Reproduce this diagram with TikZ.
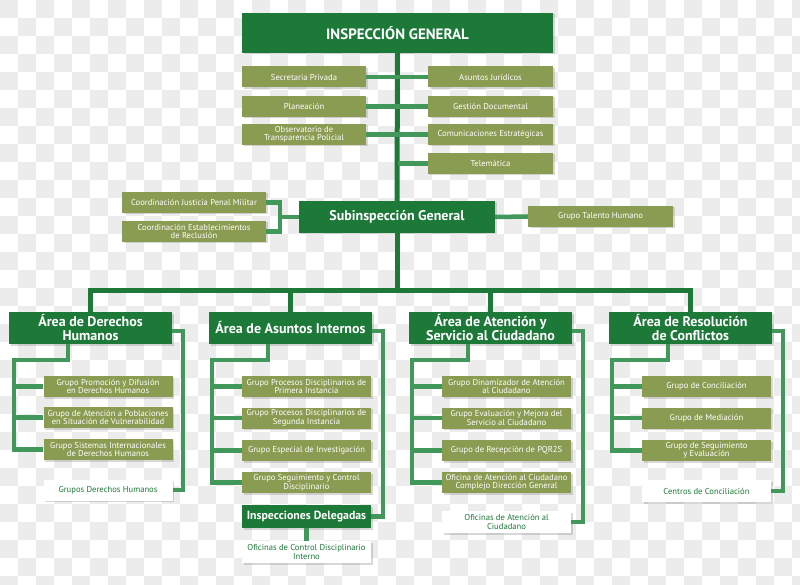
\documentclass[tikz,border=0pt]{standalone}
\usepackage{fontspec}
\setmainfont{PT Sans}
\usetikzlibrary{shadows}

\definecolor{dkgreen}{RGB}{28,121,56}
\definecolor{midgreen}{RGB}{66,152,90}
\definecolor{olivebox}{RGB}{138,155,82}
\definecolor{checker}{RGB}{236,236,236}

\begin{document}
\begin{tikzpicture}[x=1pt, y=-1pt,
    % Box styles
    box shadow/.style={drop shadow={shadow xshift=1.5pt, shadow yshift=-1.5pt, opacity=0.3}},
    head box/.style={fill=dkgreen, text=white, font=\bfseries\fontsize{14}{14}\selectfont, align=center, inner sep=2pt, box shadow},
    olive box/.style={fill=olivebox, text=white, font=\fontsize{8.6}{8.6}\selectfont, align=center, inner sep=1pt, minimum height=21pt, box shadow},
    white box/.style={fill=white, text=dkgreen, font=\fontsize{8.6}{8.6}\selectfont, align=center, inner sep=1pt, minimum width=129pt, minimum height=21pt, box shadow},
    group box/.style={olive box, minimum width=129pt},
    % Connector styles
    trunk/.style={draw=dkgreen, line width=5pt},
    side link/.style={draw=midgreen, line width=4.5pt}
  ]
  \useasboundingbox (0,0) rectangle (800,585);

  % --- Background ---
  \fill[white] (0,0) rectangle (800,585);
  \foreach \i in {0,2,...,44} {
    \foreach \j in {0,2,...,32} {
      \fill[checker] (\i*18,\j*18) rectangle +(18,18);
      \fill[checker] (\i*18+18,\j*18+18) rectangle +(18,18);
    }
  }

  % --- Top level ---
  \node[head box, font=\bfseries\fontsize{15}{16}\selectfont, minimum width=311pt, minimum height=40pt] (ig) at (397.5,33) {INSPECCIÓN GENERAL};

  \node[olive box, minimum width=124pt] (sp)  at (304,77)    {Secretaria Privada};
  \node[olive box, minimum width=124pt] (pl)  at (304,106.5) {Planeación};
  \node[olive box, minimum width=124pt] (obs) at (304,134.5) {Observatorio de\\Transparencia Policial};

  \node[olive box, minimum width=125pt] (aj)  at (490.5,77)    {Asuntos Jurídicos};
  \node[olive box, minimum width=125pt] (gd)  at (490.5,106.5) {Gestión Documental};
  \node[olive box, minimum width=125pt] (ce)  at (490.5,134.5) {Comunicaciones Estratégicas};
  \node[olive box, minimum width=125pt] (tel) at (490.5,163.5) {Telemática};

  % --- Subinspeccion ---
  \node[head box, font=\bfseries\fontsize{14}{14}\selectfont, minimum width=196pt, minimum height=32pt] (sub) at (397,217) {Subinspección General};
  \node[olive box, minimum width=144pt] (cjp) at (194,202.5) {Coordinación Justicia Penal Militar};
  \node[olive box, minimum width=144pt] (cer) at (194,231.5) {Coordinación Establecimientos\\de Reclusión};
  \node[olive box, minimum width=145pt] (gth) at (600.5,216.5) {Grupo Talento Humano};

  % --- Areas ---
  \node[head box, minimum width=163pt, minimum height=32pt] (a1) at (90.5,328)  {Área de Derechos\\Humanos};
  \node[head box, minimum width=163pt, minimum height=32pt] (a2) at (290.5,328) {Área de Asuntos Internos};
  \node[head box, minimum width=163pt, minimum height=32pt] (a3) at (490.5,328) {Área de Atención y\\Servicio al Ciudadano};
  \node[head box, minimum width=163pt, minimum height=32pt] (a4) at (690.5,328) {Área de Resolución\\de Conflictos};

  % Derechos Humanos
  \node[group box] (g11) at (108,386.5) {Grupo Promoción y Difusión\\en Derechos Humanos};
  \node[group box] (g12) at (108,417.5) {Grupo de Atención a Poblaciones\\en Situación de Vulnerabilidad};
  \node[group box] (g13) at (108,449.5) {Grupo Sistemas Internacionales\\de Derechos Humanos};
  \node[white box] (w1)  at (108,490)   {Grupos Derechos Humanos};

  % Asuntos Internos
  \node[group box] (g21) at (306.5,386.5) {Grupo Procesos Disciplinarios de\\Primera Instancia};
  \node[group box] (g22) at (306.5,418)   {Grupo Procesos Disciplinarios de\\Segunda Instancia};
  \node[group box] (g23) at (306.5,450.5) {Grupo Especial de Investigación};
  \node[group box] (g24) at (306.5,482.5) {Grupo Seguimiento y Control\\Disciplinario};
  \node[head box, font=\bfseries\fontsize{11.8}{12}\selectfont, minimum width=129pt, minimum height=23pt] (idl) at (306.5,516.5) {Inspecciones Delegadas};
  \node[white box, minimum height=22pt] (ocd) at (306.5,552) {Oficinas de Control Disciplinario\\Interno};

  % Atencion al Ciudadano
  \node[group box] (g31) at (506.5,386.5) {Grupo Dinamizador de Atención\\al Ciudadano};
  \node[group box] (g32) at (506.5,418)   {Grupo Evaluación y Mejora del\\Servicio al Ciudadano};
  \node[group box] (g33) at (506.5,450.5) {Grupo de Recepción de PQR2S};
  \node[group box] (g34) at (506.5,482.5) {Oficina de Atención al Ciudadano\\Complejo Dirección General};
  \node[white box, minimum height=22pt] (w3) at (506.5,522) {Oficinas de Atención al\\Ciudadano};

  % Resolucion de Conflictos
  \node[group box] (g41) at (706.5,386.5) {Grupo de Conciliación};
  \node[group box] (g42) at (706.5,418)   {Grupo de Mediación};
  \node[group box] (g43) at (706.5,450.5) {Grupo de Seguimiento\\y Evaluación};
  \node[white box, minimum height=22pt] (w4) at (706.5,491) {Centros de Conciliación};

  % --- Helper points ---
  \coordinate (bar) at (397,290);
  \coordinate (kb)  at (280,217);
  \coordinate (l1) at (14,360);  \coordinate (r1) at (183,490);
  \coordinate (l2) at (212,360); \coordinate (r2) at (383,516.5);
  \coordinate (l3) at (412,360); \coordinate (r3) at (583,522);
  \coordinate (l4) at (612,360); \coordinate (r4) at (783,491);

  % --- Trunk ---
  \begin{scope}[trunk]
    \draw (ig.south) -- (sub.north);
    \draw (sub.south) -- (bar);
    \draw (a1.north) |- (bar) -| (a4.north);
    \draw (a2.north) -- (a2.north |- bar);
    \draw (a3.north) -- (a3.north |- bar);
  \end{scope}

  % --- Side links ---
  \begin{scope}[side link]
    \draw (sp.east) -- (aj.west);
    \draw (pl.east) -- (gd.west);
    \draw (obs.east) -- (ce.west);
    \draw (tel.west) -- (tel.west -| ig.south);
    \draw (cjp.east) -| (kb) |- (cer.east);
    \draw (kb) -- (sub.west);
    \draw (sub.east) -- (gth.west);

    % left brackets
    \draw ([xshift=-22.5pt]a1.south) |- (l1) |- (g13.west);
    \draw (g11.west -| l1) -- (g11.west);
    \draw (g12.west -| l1) -- (g12.west);
    \draw ([xshift=-22.5pt]a2.south) |- (l2) |- (g24.west);
    \draw (g21.west -| l2) -- (g21.west);
    \draw (g22.west -| l2) -- (g22.west);
    \draw (g23.west -| l2) -- (g23.west);
    \draw ([xshift=-22.5pt]a3.south) |- (l3) |- (g34.west);
    \draw (g31.west -| l3) -- (g31.west);
    \draw (g32.west -| l3) -- (g32.west);
    \draw (g33.west -| l3) -- (g33.west);
    \draw ([xshift=-22.5pt]a4.south) |- (l4) |- (g43.west);
    \draw (g41.west -| l4) -- (g41.west);
    \draw (g42.west -| l4) -- (g42.west);

    % right brackets
    \draw ([yshift=-3pt]a1.east) -| (r1) -- (w1.east);
    \draw ([yshift=-3pt]a2.east) -| (r2) -- (idl.east);
    \draw ([yshift=-3pt]a3.east) -| (r3) -- (w3.east);
    \draw ([yshift=-3pt]a4.east) -| (r4) -- (w4.east);
    \draw (idl.south) -- (ocd.north);
  \end{scope}

\end{tikzpicture}
\end{document}
